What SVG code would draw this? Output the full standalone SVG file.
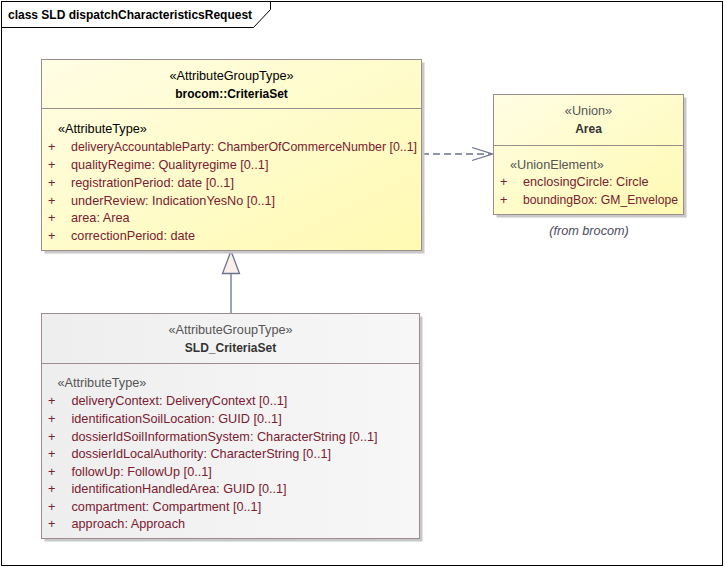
<svg xmlns="http://www.w3.org/2000/svg" width="725" height="567" viewBox="0 0 725 567">
<style>
text{font-family:"Liberation Sans",Arial,sans-serif;font-size:12.7px}
.title{font-weight:bold;fill:#000;font-size:12px}
.st{text-anchor:middle;fill:#000}
.nm{text-anchor:middle;font-weight:bold;fill:#000;font-size:12px}
.stg{text-anchor:middle;fill:#555}
.nmg{text-anchor:middle;font-weight:bold;fill:#333;font-size:12px}
.sec{fill:#000}
.secg{fill:#555}
.attr{fill:#7a2030}
.box{stroke:#9c8c8c;stroke-width:1}
.shadow{fill:#c8c8c8}
.div{stroke:#9c8c8c;stroke-width:1}
.conn{stroke:#6a7390;stroke-width:1.3;fill:none}
.from{text-anchor:middle;font-style:italic;fill:#4b4b5e}
</style>
<defs>
<linearGradient id="gy" x1="0" y1="0" x2="1" y2="1">
<stop offset="0" stop-color="#fffde4"/>
<stop offset="1" stop-color="#fffab2"/>
</linearGradient>
<linearGradient id="gg" x1="0" y1="0" x2="1" y2="0">
<stop offset="0" stop-color="#eeeeee"/>
<stop offset="1" stop-color="#f7f7f7"/>
</linearGradient>
</defs>
<rect x="0" y="0" width="725" height="567" fill="#ffffff"/>
<g id="frame">
<rect x="1.5" y="1.5" width="721" height="564" fill="none" stroke="#000" stroke-width="1"/>
<path d="M270.5,1.5 V9.5 L253.5,27.5 H1.5" fill="none" stroke="#000" stroke-width="1"/>
<text class="title" x="8" y="19">class SLD dispatchCharacteristicsRequest</text>
</g>
<g id="connectors">
<path class="conn" d="M231,273.5 V313"/>
<polygon points="231,251 222.5,273.5 239.5,273.5" fill="#fbefea" stroke="#6a7390" stroke-width="1.3"/>
<path class="conn" d="M422,154 H491" stroke-dasharray="7,4"/>
<path class="conn" d="M472,147.5 L492.5,154 L472,160.5"/>
</g>
<g id="CriteriaSet">
<rect class="shadow" x="44.5" y="62.5" width="380" height="191"/>
<rect class="box" x="41.5" y="59.5" width="380" height="191" fill="url(#gy)"/>
<line class="div" x1="41.5" y1="108.5" x2="421.5" y2="108.5"/>
<text class="st" x="231.5" y="80">«AttributeGroupType»</text>
<text class="nm" x="231.5" y="98">brocom::CriteriaSet</text>
<text class="sec" x="58" y="133">«AttributeType»</text>
<text class="attr" x="48" y="151">+</text><text class="attr" x="71" y="151" textLength="346" lengthAdjust="spacingAndGlyphs">deliveryAccountableParty: ChamberOfCommerceNumber [0..1]</text>
<text class="attr" x="48" y="169">+</text><text class="attr" x="71" y="169">qualityRegime: Qualityregime [0..1]</text>
<text class="attr" x="48" y="186.5">+</text><text class="attr" x="71" y="186.5">registrationPeriod: date [0..1]</text>
<text class="attr" x="48" y="204.5">+</text><text class="attr" x="71" y="204.5">underReview: IndicationYesNo [0..1]</text>
<text class="attr" x="48" y="222">+</text><text class="attr" x="71" y="222">area: Area</text>
<text class="attr" x="48" y="240">+</text><text class="attr" x="71" y="240">correctionPeriod: date</text>
</g>
<g id="Area">
<rect class="shadow" x="496.5" y="97.5" width="190" height="120"/>
<rect class="box" x="493.5" y="94.5" width="190" height="120" fill="url(#gy)"/>
<line class="div" x1="493.5" y1="145.5" x2="683.5" y2="145.5"/>
<text class="stg" x="588.5" y="115">«Union»</text>
<text class="nmg" x="588.5" y="133">Area</text>
<text class="secg" x="510" y="169">«UnionElement»</text>
<text class="attr" x="500" y="186">+</text><text class="attr" x="523" y="186">enclosingCircle: Circle</text>
<text class="attr" x="500" y="204">+</text><text class="attr" x="523" y="204" textLength="155" lengthAdjust="spacingAndGlyphs">boundingBox: GM_Envelope</text>
<text class="from" x="589" y="235">(from brocom)</text>
</g>
<g id="SLD_CriteriaSet">
<rect class="shadow" x="44.5" y="316.5" width="378" height="225"/>
<rect class="box" x="41.5" y="313.5" width="378" height="225" fill="url(#gg)"/>
<line class="div" x1="41.5" y1="363.5" x2="419.5" y2="363.5"/>
<text class="stg" x="230.5" y="333.5">«AttributeGroupType»</text>
<text class="nmg" x="230.5" y="351.5">SLD_CriteriaSet</text>
<text class="secg" x="57.5" y="387">«AttributeType»</text>
<text class="attr" x="48" y="405.3">+</text><text class="attr" x="71.5" y="405.3">deliveryContext: DeliveryContext [0..1]</text>
<text class="attr" x="48" y="423">+</text><text class="attr" x="71.5" y="423">identificationSoilLocation: GUID [0..1]</text>
<text class="attr" x="48" y="440.5">+</text><text class="attr" x="71.5" y="440.5">dossierIdSoilInformationSystem: CharacterString [0..1]</text>
<text class="attr" x="48" y="458">+</text><text class="attr" x="71.5" y="458">dossierIdLocalAuthority: CharacterString [0..1]</text>
<text class="attr" x="48" y="475.5">+</text><text class="attr" x="71.5" y="475.5">followUp: FollowUp [0..1]</text>
<text class="attr" x="48" y="493">+</text><text class="attr" x="71.5" y="493">identificationHandledArea: GUID [0..1]</text>
<text class="attr" x="48" y="510.7">+</text><text class="attr" x="71.5" y="510.7">compartment: Compartment [0..1]</text>
<text class="attr" x="48" y="528.3">+</text><text class="attr" x="71.5" y="528.3">approach: Approach</text>
</g>
</svg>
